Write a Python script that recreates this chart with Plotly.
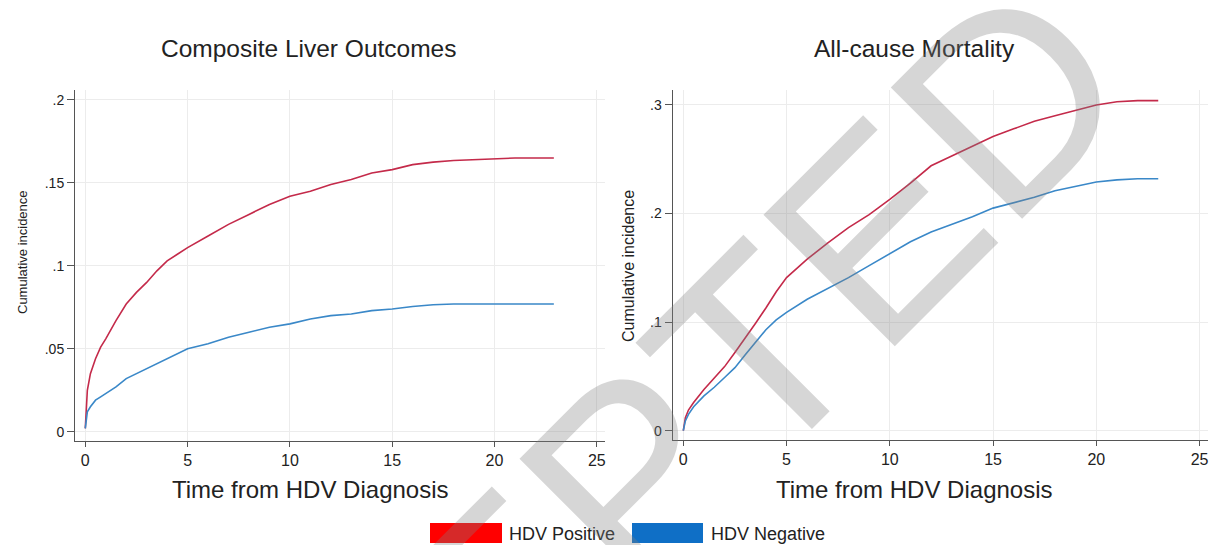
import plotly.graph_objects as go

W, H = 1212, 545

# ---------------- data ----------------
t_liver = [0, 0.05, 0.1, 0.25, 0.5, 0.75, 1, 1.5, 2, 2.5, 3, 3.5, 4, 4.5, 5, 6, 7, 8, 9, 10,
           11, 12, 13, 14, 15, 16, 17, 18, 19, 20, 21, 22, 22.9]
liver_pos = [0.002, 0.018, 0.025, 0.035, 0.044, 0.051, 0.056, 0.067, 0.077, 0.084, 0.090,
             0.097, 0.103, 0.107, 0.111, 0.118, 0.125, 0.131, 0.137, 0.142, 0.145, 0.149,
             0.152, 0.156, 0.158, 0.161, 0.1625, 0.1635, 0.164, 0.1645, 0.165, 0.165, 0.165]
liver_neg = [0.002, 0.008, 0.012, 0.015, 0.019, 0.021, 0.023, 0.027, 0.032, 0.035, 0.038,
             0.041, 0.044, 0.047, 0.050, 0.053, 0.057, 0.060, 0.063, 0.065, 0.068, 0.070,
             0.071, 0.073, 0.074, 0.0755, 0.0765, 0.077, 0.077, 0.077, 0.077, 0.077, 0.077]

t_mort = [0, 0.1, 0.25, 0.5, 1, 1.5, 2, 2.5, 3, 3.5, 4, 4.5, 5, 6, 7, 8, 9, 10, 11, 12,
          13, 14, 15, 16, 17, 18, 19, 20, 21, 22, 23]
mort_pos = [0, 0.012, 0.019, 0.026, 0.038, 0.048, 0.059, 0.072, 0.085, 0.099, 0.113, 0.128,
            0.141, 0.158, 0.173, 0.187, 0.199, 0.213, 0.228, 0.244, 0.253, 0.262, 0.271,
            0.278, 0.285, 0.290, 0.295, 0.300, 0.303, 0.304, 0.304]
mort_neg = [0, 0.009, 0.015, 0.022, 0.032, 0.040, 0.049, 0.058, 0.070, 0.082, 0.093, 0.102,
            0.109, 0.121, 0.131, 0.141, 0.152, 0.163, 0.174, 0.183, 0.190, 0.197, 0.205,
            0.210, 0.215, 0.221, 0.225, 0.229, 0.231, 0.232, 0.232]

x_ticks = [0, 5, 10, 15, 20, 25]
liver_yticks = [0, 0.05, 0.1, 0.15, 0.2]
liver_ylabels = ["0", ".05", ".1", ".15", ".2"]
mort_yticks = [0, 0.1, 0.2, 0.3]
mort_ylabels = ["0", ".1", ".2", ".3"]

panel_titles = ["Composite Liver Outcomes", "All-cause Mortality"]
x_title = "Time from HDV Diagnosis"
y_title = "Cumulative incidence"
series_names = ["HDV Positive", "HDV Negative"]
watermark = "ACCEPTED"

# ---------------- styles ----------------
RED_LINE = "#c42a4a"
BLUE_LINE = "#3a88c8"
RED_SW = "#ff0000"
BLUE_SW = "#0f6fc6"
TXT = "#222222"
AX = "#555555"
GRID = "#ececec"
FONT = "Liberation Sans, Arial, sans-serif"


def px_x(p):
    return p / W


def px_y(p):
    return 1 - p / H


fig = go.Figure()
fig.add_trace(go.Scatter(x=t_liver, y=liver_pos, mode="lines", name=series_names[0],
                         line=dict(color=RED_LINE, width=1.6), xaxis="x", yaxis="y",
                         showlegend=False))
fig.add_trace(go.Scatter(x=t_liver, y=liver_neg, mode="lines", name=series_names[1],
                         line=dict(color=BLUE_LINE, width=1.6), xaxis="x", yaxis="y",
                         showlegend=False))
fig.add_trace(go.Scatter(x=t_mort, y=mort_pos, mode="lines", name=series_names[0],
                         line=dict(color=RED_LINE, width=1.6), xaxis="x2", yaxis="y2",
                         showlegend=False))
fig.add_trace(go.Scatter(x=t_mort, y=mort_neg, mode="lines", name=series_names[1],
                         line=dict(color=BLUE_LINE, width=1.6), xaxis="x2", yaxis="y2",
                         showlegend=False))

xcommon = dict(showline=True, linecolor=AX, linewidth=1, ticks="outside", ticklen=5,
               tickcolor=AX, tickwidth=1, showgrid=True, gridcolor=GRID, gridwidth=1,
               zeroline=False, tickvals=x_ticks, ticktext=[str(v) for v in x_ticks],
               tickfont=dict(family=FONT, size=16, color=TXT), mirror=False)
ycommon = dict(showline=True, linecolor=AX, linewidth=1, ticks="outside", ticklen=7,
               tickcolor=AX, tickwidth=1, showgrid=True, gridcolor=GRID, gridwidth=1,
               zeroline=False, tickfont=dict(family=FONT, size=14, color=TXT), mirror=False)

fig.update_layout(
    width=W, height=H,
    margin=dict(l=0, r=0, t=0, b=0),
    paper_bgcolor="white", plot_bgcolor="white",
    font=dict(family=FONT, color=TXT),
    xaxis=dict(domain=[px_x(75), px_x(605)], range=[-0.503, 25.4], anchor="y", **xcommon),
    yaxis=dict(domain=[px_y(441), px_y(90)], range=[-0.0056, 0.206], anchor="x",
               tickvals=liver_yticks, ticktext=liver_ylabels, **ycommon),
    xaxis2=dict(domain=[px_x(672.5), px_x(1208)], range=[-0.523, 25.41], anchor="y2", **xcommon),
    yaxis2=dict(domain=[px_y(440), px_y(90)], range=[-0.0086, 0.3138], anchor="x2",
                tickvals=mort_yticks, ticktext=mort_ylabels, **ycommon),
)

ann = []
# panel titles
ann.append(dict(text=panel_titles[0], x=px_x(308), y=px_y(48), xref="paper", yref="paper",
                showarrow=False, xanchor="center", yanchor="middle",
                font=dict(family=FONT, size=24.5, color=TXT)))
ann.append(dict(text=panel_titles[1], x=px_x(914), y=px_y(48), xref="paper", yref="paper",
                showarrow=False, xanchor="center", yanchor="middle",
                font=dict(family=FONT, size=24.5, color=TXT)))
# x titles
for cx in (310, 914):
    ann.append(dict(text=x_title, x=px_x(cx), y=px_y(489), xref="paper", yref="paper",
                    showarrow=False, xanchor="center", yanchor="middle",
                    font=dict(family=FONT, size=24, color=TXT)))
# y titles
ann.append(dict(text=y_title, x=px_x(22), y=px_y(252), xref="paper", yref="paper",
                showarrow=False, xanchor="center", yanchor="middle", textangle=-90,
                font=dict(family=FONT, size=13, color=TXT)))
ann.append(dict(text=y_title, x=px_x(628), y=px_y(266), xref="paper", yref="paper",
                showarrow=False, xanchor="center", yanchor="middle", textangle=-90,
                font=dict(family=FONT, size=16, color=TXT)))
# legend
shapes = []
legend_items = [(430, 502, RED_SW, 507, series_names[0]),
                (632, 703, BLUE_SW, 709, series_names[1])]
for x0, x1, col, tx, name in legend_items:
    shapes.append(dict(type="rect", xref="paper", yref="paper", x0=px_x(x0), x1=px_x(x1),
                       y0=px_y(543), y1=px_y(523), fillcolor=col, line=dict(width=0),
                       layer="above"))
    ann.append(dict(text=name, x=px_x(tx), y=px_y(534), xref="paper", yref="paper",
                    showarrow=False, xanchor="left", yanchor="middle",
                    font=dict(family=FONT, size=18, color=TXT)))
# watermark
ann.append(dict(text=watermark, x=px_x(558), y=px_y(550), xref="paper", yref="paper",
                showarrow=False, xanchor="center", yanchor="middle", textangle=-45,
                font=dict(family=FONT, size=270, color="rgba(128,128,128,0.32)")))

fig.update_layout(annotations=ann, shapes=shapes)
fig.write_html("out.html", config={"displayModeBar": False},
               post_script="document.body.style.margin='0';document.body.style.overflow='hidden';")
